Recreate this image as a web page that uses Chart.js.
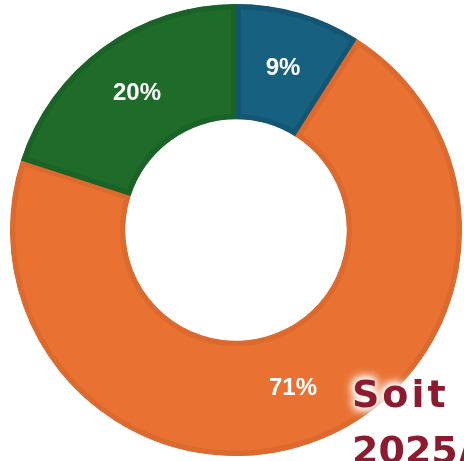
<!DOCTYPE html>
<html>
<head>
<meta charset="utf-8">
<script src="https://cdn.jsdelivr.net/npm/chart.js@4/dist/chart.umd.min.js"></script>
<style>
    html, body {
        margin: 0;
        padding: 0;
        background: #ffffff;
        width: 464px;
        height: 461px;
        overflow: hidden;
    }
    #wrap {
        position: absolute;
        left: 10px;
        top: 4px;
        width: 452px;
        height: 452px;
    }
    .soit {
        position: absolute;
        left: 352px;
        top: 366px;
        font-family: "DejaVu Sans", sans-serif;
        font-weight: bold;
        font-size: 38px;
        line-height: 56px;
        letter-spacing: 3px;
        color: #8c1b2f;
        white-space: nowrap;
        text-shadow: 0 0 4px #fff, 0 0 8px #fff, 0 0 10px #fff, 0 0 12px #fff, 0 0 14px #fff;
    }
    .soit span {
        letter-spacing: 0;
    }
</style>
</head>
<body>
<div id="wrap"><canvas id="donut" width="452" height="452"></canvas></div>
<div class="soit">Soit<br><span>2025/</span></div>

<script>
// ===== Données =====
const labels = ["Bleu", "Orange", "Vert"];
const values = [9, 71, 20];
const fillColors = ["#17607f", "#e97132", "#1e6b2a"];
const edgeColors = ["#125674", "#dc6a2e", "#1a6226"];

// pourcentages au centre de chaque secteur
const percentLabels = {
    id: "percentLabels",
    afterDatasetsDraw(chart) {
        const ctx = chart.ctx;
        const meta = chart.getDatasetMeta(0);
        const data = chart.data.datasets[0].data;
        const total = data.reduce((a, b) => a + b, 0);
        ctx.save();
        ctx.fillStyle = "#ffffff";
        ctx.font = "bold 24px 'Liberation Sans', Arial, sans-serif";
        ctx.textAlign = "center";
        ctx.textBaseline = "middle";
        meta.data.forEach((arc, i) => {
            const pos = arc.tooltipPosition();
            const pct = Math.round(data[i] / total * 100);
            ctx.fillText(pct + "%", pos.x, pos.y);
        });
        ctx.restore();
    }
};

new Chart(document.getElementById("donut"), {
    type: "doughnut",
    data: {
        labels: labels,
        datasets: [{
            data: values,
            backgroundColor: fillColors,
            borderColor: edgeColors,
            borderWidth: 5,
            borderAlign: "inner",
            hoverOffset: 0
        }]
    },
    options: {
        responsive: false,
        animation: false,
        cutout: "49%",
        rotation: 0,
        layout: { padding: 0 },
        plugins: {
            legend: { display: false },
            tooltip: { enabled: false }
        }
    },
    plugins: [percentLabels]
});
</script>
</body>
</html>
